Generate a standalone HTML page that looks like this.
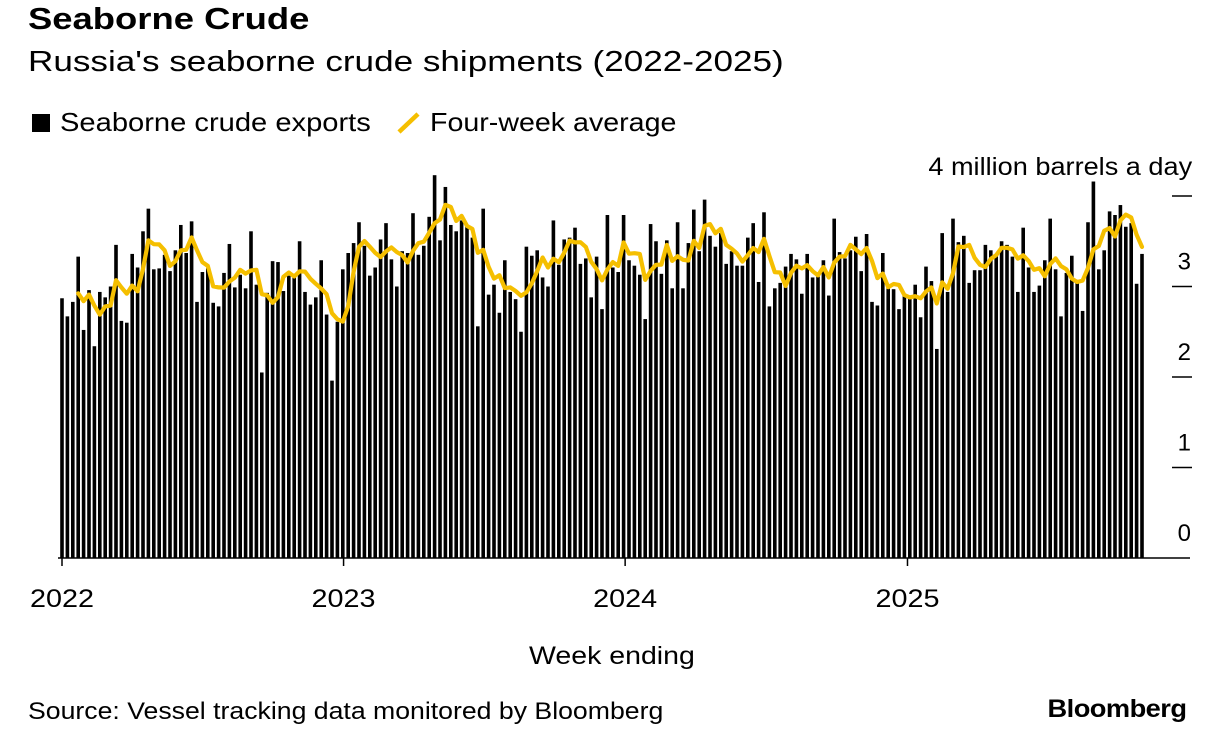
<!DOCTYPE html>
<html><head><meta charset="utf-8"><style>
body{margin:0;background:#fff;font-family:"Liberation Sans",sans-serif;color:#000;}
#wrap{position:relative;width:1224px;height:730px;overflow:hidden;}
.t{position:absolute;white-space:nowrap;transform-origin:left top;}
.r{transform-origin:right top;}
</style></head><body>
<div id="wrap">
<div class="t" style="left:28px;top:1px;font-size:31px;font-weight:bold;transform:scaleX(1.175);">Seaborne Crude</div>
<div class="t" style="left:28px;top:46px;font-size:29px;transform:scaleX(1.21);">Russia's seaborne crude shipments (2022-2025)</div>
<div class="t" style="left:32px;top:107px;font-size:26px;"><span style="display:inline-block;width:18px;height:18px;background:#000;vertical-align:-1px;margin-right:10px;"></span><span style="display:inline-block;transform:scaleX(1.12);transform-origin:left center;">Seaborne crude exports</span></div>
<div class="t" style="left:396px;top:107px;font-size:26px;"><svg width="26" height="24" style="vertical-align:-4px;margin-right:8px"><line x1="3" y1="21" x2="22" y2="3" stroke="#f5bf00" stroke-width="4.5"/></svg><span style="display:inline-block;transform:scaleX(1.10);transform-origin:left center;">Four-week average</span></div>
<div class="t r" style="right:32px;top:153px;font-size:25px;transform:scaleX(1.085);">4 million barrels a day</div>
<div class="t" style="left:529px;top:642px;font-size:25px;transform:scaleX(1.14);">Week ending</div>
<div class="t" style="left:28px;top:698px;font-size:24px;transform:scaleX(1.11);">Source: Vessel tracking data monitored by Bloomberg</div>
<div class="t r" style="right:38px;top:695px;font-size:25px;font-weight:bold;letter-spacing:-0.5px;transform:scaleX(1.09);">Bloomberg</div>
<svg id="chart" width="1224" height="730" style="position:absolute;left:0;top:0"></svg>
</div>
<script>
const exportsData = [2.87,2.67,2.83,3.33,2.52,2.96,2.34,2.94,2.88,3.00,3.46,2.62,2.60,3.36,3.21,3.61,3.86,3.19,3.20,3.35,3.17,3.40,3.68,3.37,3.72,2.83,3.16,3.20,2.82,2.78,3.15,3.47,2.99,3.13,2.98,
3.61,3.02,2.05,2.93,3.28,3.27,2.95,3.12,3.10,3.50,2.94,2.80,2.88,3.29,2.69,1.96,2.61,3.19,3.37,3.48,3.71,3.45,3.12,3.21,3.52,3.70,3.30,3.00,3.39,3.37,3.81,3.35,3.45,3.77,
4.23,3.51,4.10,3.68,3.61,3.73,3.66,3.54,2.56,3.86,2.91,3.02,2.71,3.29,2.94,2.86,2.50,3.44,3.34,3.40,3.10,3.00,3.73,3.24,3.52,3.54,3.65,3.25,3.31,2.88,3.33,2.75,3.79,3.21,3.16,
3.79,3.29,3.23,3.13,2.64,3.69,3.50,3.14,3.51,2.98,3.71,2.98,3.48,3.85,3.39,3.96,3.56,3.44,3.59,3.25,3.39,3.23,3.23,3.54,3.70,3.05,3.82,2.78,2.98,3.04,3.22,3.36,3.30,2.92,
3.36,3.10,3.11,3.29,2.90,3.75,3.38,3.31,3.40,3.55,3.17,3.58,2.83,2.79,3.37,2.98,2.97,2.75,2.92,2.88,3.02,2.66,3.22,3.06,2.31,3.59,2.94,3.75,3.49,3.56,3.04,3.18,3.18,3.46,
3.40,3.35,3.50,3.46,3.33,2.94,3.65,3.21,2.94,3.01,3.29,3.75,3.19,2.67,3.15,3.34,3.04,2.73,3.71,4.16,3.19,3.40,3.83,3.79,3.90,3.66,3.70,3.03,3.36];
const yTicks = [0,1,2,3,4];
const yTickLabels = ["0","1","2","3",""];
const yearLabels = ["2022","2023","2024","2025"];
const yearDates = ["2022-01-01","2023-01-01","2024-01-01","2025-01-01"];
const firstWeek = "2022-01-01";

const NS="http://www.w3.org/2000/svg";
const svg=document.getElementById('chart');
const x0=62, pitch=5.40, y0=558, yUnit=90.5;
function xScale(i){return x0+i*pitch;}
function yScale(v){return y0-v*yUnit;}
function weekIndex(d){return (new Date(d)-new Date(firstWeek))/(7*864e5);}
function mk(tag,attrs){const e=document.createElementNS(NS,tag);for(const k in attrs)e.setAttribute(k,attrs[k]);svg.appendChild(e);return e;}

exportsData.forEach((v,i)=>{
  const r=mk('rect',{x:xScale(i)-1.8,y:yScale(v),width:3.6,height:y0-yScale(v),fill:'#000'});
  
  
});
const avg=[];
for(let i=3;i<exportsData.length;i++){
  const m=(exportsData[i]+exportsData[i-1]+exportsData[i-2]+exportsData[i-3])/4;
  avg.push(xScale(i).toFixed(1)+','+yScale(m).toFixed(1));
}
const pl=mk('polyline',{points:avg.join(' '),fill:'none',stroke:'#f5bf00','stroke-width':4.2,'stroke-linejoin':'round','stroke-linecap':'round'});



const base=mk('line',{x1:58,x2:1190,y1:y0,y2:y0,stroke:'#000','stroke-width':1.5});



yTicks.forEach((t,k)=>{
  if(t>0){
    const l=mk('line',{x1:1172,x2:1192,y1:yScale(t),y2:yScale(t),stroke:'#000','stroke-width':1.5});
    
    
  }
  if(yTickLabels[k]){
    const tx=mk('text',{x:1191,y:yScale(t)-17,'text-anchor':'end','font-size':24,'font-family':'Liberation Sans, sans-serif'});
    tx.textContent=yTickLabels[k];
    
    
  }
});
yearLabels.forEach((lab,k)=>{
  const xx=xScale(weekIndex(yearDates[k]));
  const l=mk('line',{x1:xx,x2:xx,y1:y0,y2:y0+8,stroke:'#000','stroke-width':1.5});
  
  
  const tx=mk('text',{x:xx-32,y:607,'font-size':25,'font-family':'Liberation Sans, sans-serif',textLength:64,lengthAdjust:'spacingAndGlyphs'});
  tx.textContent=lab;
  
  
});
</script>
</body></html>
